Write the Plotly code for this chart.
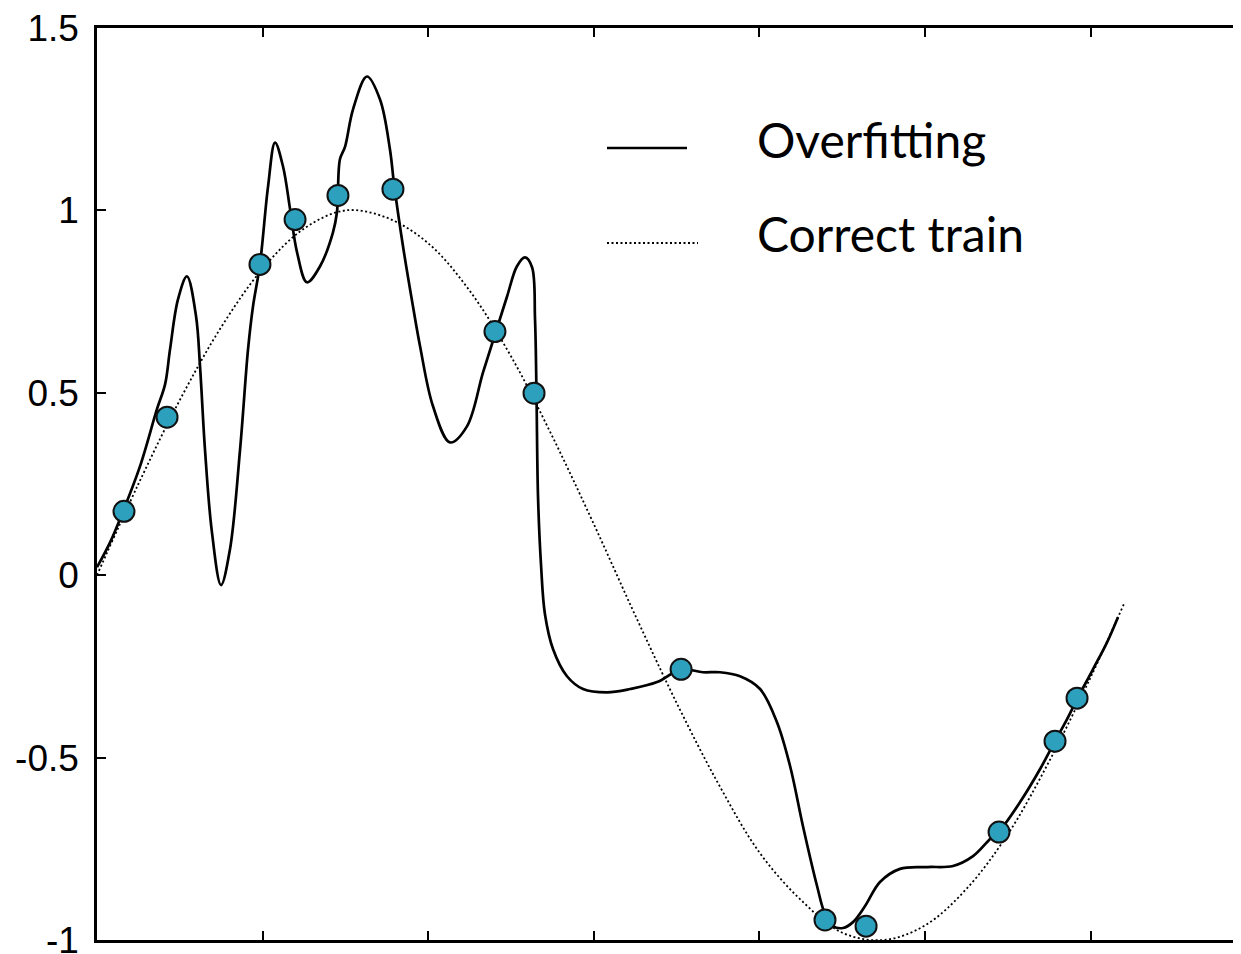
import plotly.graph_objects as go

# Overfitting curve
over_x = [0.000, 0.079, 0.157, 0.260, 0.362, 0.411, 0.441, 0.489, 0.543, 0.598,
          0.622, 0.652, 0.694, 0.749, 0.803, 0.864, 0.912, 0.942, 0.984, 1.033,
          1.075, 1.123, 1.166, 1.208, 1.268, 1.347, 1.425, 1.449, 1.467, 1.498,
          1.546, 1.630, 1.709, 1.769, 1.794, 1.848, 1.908, 1.951, 2.029, 2.132,
          2.234, 2.331, 2.409, 2.476, 2.536, 2.585, 2.627, 2.645, 2.654, 2.663,
          2.681, 2.705, 2.754, 2.838, 2.935, 3.080, 3.219, 3.382, 3.527, 3.659,
          3.762, 3.883, 4.004, 4.106, 4.185, 4.263, 4.348, 4.396, 4.444, 4.505,
          4.565, 4.638, 4.728, 4.849, 5.012, 5.169, 5.290, 5.393, 5.453, 5.574,
          5.694, 5.785, 5.857, 5.918, 6.014, 6.099, 6.165]
over_y = [0.022, 0.090, 0.175, 0.299, 0.455, 0.523, 0.619, 0.756, 0.819, 0.710,
          0.573, 0.345, 0.118, -0.027, 0.071, 0.345, 0.619, 0.737, 0.852, 1.066,
          1.186, 1.121, 1.003, 0.885, 0.803, 0.847, 0.940, 0.995, 1.140, 1.175,
          1.277, 1.367, 1.304, 1.167, 1.071, 0.901, 0.737, 0.627, 0.463, 0.364,
          0.408, 0.556, 0.668, 0.764, 0.847, 0.871, 0.844, 0.701, 0.490, 0.216,
          0.030, -0.107, -0.203, -0.277, -0.312, -0.321, -0.312, -0.293, -0.258, -0.266,
          -0.266, -0.277, -0.312, -0.403, -0.523, -0.688, -0.852, -0.929, -0.962, -0.967,
          -0.951, -0.907, -0.841, -0.805, -0.800, -0.797, -0.770, -0.723, -0.699, -0.622,
          -0.532, -0.455, -0.395, -0.340, -0.258, -0.184, -0.115]

# Correct train curve
true_x = [0.00, 0.25, 0.50, 0.75, 1.00, 1.25, 1.50, 1.75, 2.00, 2.25, 2.50, 2.75, 3.00,
          3.25, 3.50, 3.75, 4.00, 4.25, 4.50, 4.75, 5.00, 5.25, 5.50, 5.75, 6.00, 6.20]
true_y = [0.00, 0.25, 0.48, 0.68, 0.84, 0.95, 1.00, 0.98, 0.91, 0.78, 0.60, 0.38, 0.14,
          -0.11, -0.35, -0.57, -0.76, -0.89, -0.98, -1.00, -0.96, -0.86, -0.71, -0.51, -0.28, -0.08]

# Training samples
pts_x = [0.163, 0.423, 0.984, 1.196, 1.455, 1.787, 2.403, 2.639, 3.527, 4.396, 4.644, 5.447, 5.785, 5.918]
pts_y = [0.175, 0.433, 0.852, 0.975, 1.041, 1.058, 0.668, 0.499, -0.258, -0.945, -0.962, -0.704, -0.455, -0.337]

legend_labels = ["Overfitting", "Correct train"]
ytick_vals = [-1, -0.5, 0, 0.5, 1, 1.5]
ytick_text = ["-1", "-0.5", "0", "0.5", "1", "1.5"]
xtick_vals = [1, 2, 3, 4, 5, 6]

fig = go.Figure()
fig.add_trace(go.Scatter(x=true_x, y=true_y, mode="lines",
                         line=dict(color="black", width=1.8, dash="2px,2.5px", shape="spline"),
                         showlegend=False, hoverinfo="skip"))
fig.add_trace(go.Scatter(x=over_x, y=over_y, mode="lines",
                         line=dict(color="black", width=2.7, shape="spline", smoothing=1.0),
                         showlegend=False))
fig.add_trace(go.Scatter(x=pts_x, y=pts_y, mode="markers",
                         marker=dict(size=21, color="#2CA0BC", line=dict(color="#111", width=2)),
                         showlegend=False))

# page offset of the plot div (default body margin)
OFF = 8
W, H = 1233, 946
L, R, T, B = 97 - OFF, 1241 - OFF, 28 - OFF, 940 - OFF


def px(x):
    return (x - OFF - L) / (R - L)


def py(y):
    return (B - (y - OFF)) / (B - T)


# manual legend
fig.add_shape(type="line", xref="paper", yref="paper", x0=px(607), x1=px(687), y0=py(148), y1=py(148),
              line=dict(color="black", width=2.7))
fig.add_shape(type="line", xref="paper", yref="paper", x0=px(607), x1=px(698), y0=py(243), y1=py(243),
              line=dict(color="black", width=1.8, dash="2px,2.5px"))
for lab, yy in zip(legend_labels, [139, 234]):
    fig.add_annotation(xref="paper", yref="paper", x=px(755), y=py(yy), text=lab, showarrow=False,
                       xanchor="left", yanchor="middle", font=dict(family="Lato", size=48, color="black"))

fig.update_layout(
    width=W, height=H,
    margin=dict(l=L, r=W - R, t=T, b=H - B, autoexpand=False),
    plot_bgcolor="white", paper_bgcolor="white",
    xaxis=dict(range=[0, 6.908], showgrid=False, zeroline=False, showline=True, linecolor="black",
               linewidth=2.5, mirror="ticks", ticks="inside", ticklen=9, tickwidth=2, tickcolor="black",
               tickvals=xtick_vals, showticklabels=False),
    yaxis=dict(range=[-1, 1.5], showgrid=False, zeroline=False, showline=True, linecolor="black",
               linewidth=2.5, mirror=False, ticks="inside", ticklen=9, tickwidth=2, tickcolor="black",
               tickvals=ytick_vals, ticktext=ytick_text, ticklabelstandoff=8,
               ticklabeloverflow="allow",
               tickfont=dict(family="Liberation Sans", size=37, color="black")),
)
fig.write_html("out.html")
